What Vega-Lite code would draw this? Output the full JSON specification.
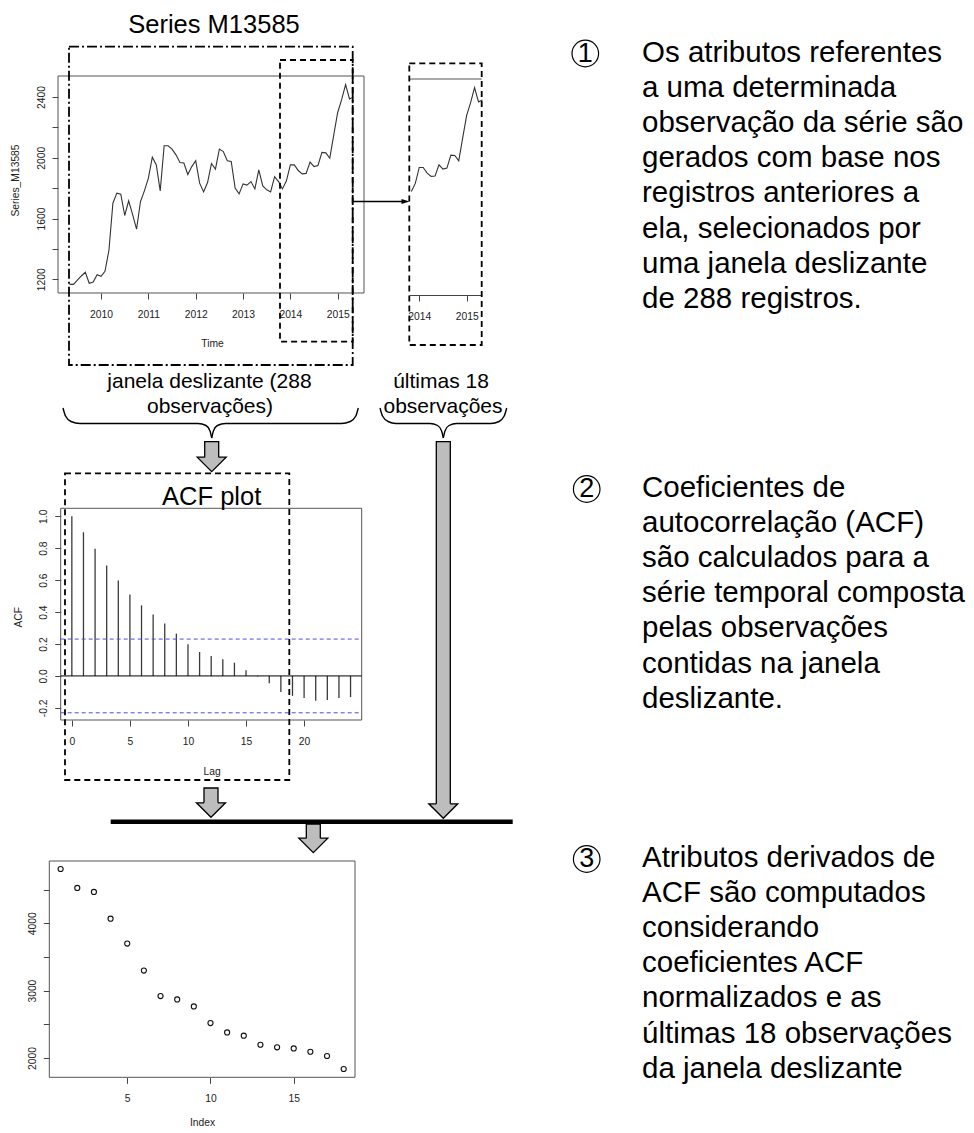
{
  "$schema": "https://vega.github.io/schema/vega-lite/v6.json",
  "width": 974,
  "height": 1133,
  "autosize": {"type": "none"},
  "padding": 0,
  "background": "white",
  "config": {
    "view": {"stroke": null},
    "font": "Liberation Sans",
    "axis": {
      "grid": false,
      "domain": false,
      "tickColor": "#444",
      "tickSize": 6,
      "tickWidth": 1,
      "labelColor": "#222",
      "labelFont": "Liberation Sans",
      "labelFontSize": 10.3,
      "labelOverlap": false,
      "labelFlush": false,
      "titleFont": "Liberation Sans",
      "titleFontSize": 10.3,
      "titleFontWeight": "normal",
      "titleColor": "#222"
    },
    "axisBottom": {"labelAngle": 0, "labelAlign": "center", "labelBaseline": "middle", "labelPadding": 15, "titleAlign": "center", "titleBaseline": "middle"},
    "axisLeft": {"labelAngle": -90, "labelAlign": "center", "labelBaseline": "middle", "labelPadding": 11, "titleAngle": -90, "titleAlign": "center", "titleBaseline": "middle"}
  },
  "datasets": {
    "series": [
      {"year": 2009.333, "value": 1167}, {"year": 2009.417, "value": 1167}, {"year": 2009.5, "value": 1195}, {"year": 2009.583, "value": 1222},
      {"year": 2009.667, "value": 1246}, {"year": 2009.75, "value": 1174}, {"year": 2009.833, "value": 1182}, {"year": 2009.917, "value": 1230},
      {"year": 2010, "value": 1220}, {"year": 2010.083, "value": 1253}, {"year": 2010.167, "value": 1393}, {"year": 2010.25, "value": 1701},
      {"year": 2010.333, "value": 1767}, {"year": 2010.417, "value": 1760}, {"year": 2010.5, "value": 1620}, {"year": 2010.583, "value": 1716},
      {"year": 2010.667, "value": 1626}, {"year": 2010.75, "value": 1530}, {"year": 2010.833, "value": 1712}, {"year": 2010.917, "value": 1784},
      {"year": 2011, "value": 1866}, {"year": 2011.083, "value": 2004}, {"year": 2011.167, "value": 1953}, {"year": 2011.25, "value": 1782},
      {"year": 2011.333, "value": 2079}, {"year": 2011.417, "value": 2079}, {"year": 2011.5, "value": 2057}, {"year": 2011.583, "value": 2019},
      {"year": 2011.667, "value": 1969}, {"year": 2011.75, "value": 1965}, {"year": 2011.833, "value": 1890}, {"year": 2011.917, "value": 1942},
      {"year": 2012, "value": 1980}, {"year": 2012.083, "value": 1833}, {"year": 2012.167, "value": 1775}, {"year": 2012.25, "value": 1837},
      {"year": 2012.333, "value": 1962}, {"year": 2012.417, "value": 1925}, {"year": 2012.5, "value": 2057}, {"year": 2012.583, "value": 2041},
      {"year": 2012.667, "value": 1980}, {"year": 2012.75, "value": 1976}, {"year": 2012.833, "value": 1800}, {"year": 2012.917, "value": 1762},
      {"year": 2013, "value": 1828}, {"year": 2013.083, "value": 1820}, {"year": 2013.167, "value": 1843}, {"year": 2013.25, "value": 1795},
      {"year": 2013.333, "value": 1920}, {"year": 2013.417, "value": 1815}, {"year": 2013.5, "value": 1789}, {"year": 2013.583, "value": 1775},
      {"year": 2013.667, "value": 1876}, {"year": 2013.75, "value": 1843}, {"year": 2013.833, "value": 1795}, {"year": 2013.917, "value": 1848},
      {"year": 2014, "value": 1953}, {"year": 2014.083, "value": 1953}, {"year": 2014.167, "value": 1916}, {"year": 2014.25, "value": 1894},
      {"year": 2014.333, "value": 1897}, {"year": 2014.417, "value": 1971}, {"year": 2014.5, "value": 1942}, {"year": 2014.583, "value": 1949},
      {"year": 2014.667, "value": 2035}, {"year": 2014.75, "value": 2032}, {"year": 2014.833, "value": 1997}, {"year": 2014.917, "value": 2151},
      {"year": 2015, "value": 2298}, {"year": 2015.083, "value": 2382}, {"year": 2015.167, "value": 2481}, {"year": 2015.25, "value": 2387},
      {"year": 2015.333, "value": 2400}
    ],
    "acf": [
      {"lag": 0, "acf": 1.0}, {"lag": 1, "acf": 0.9}, {"lag": 2, "acf": 0.796}, {"lag": 3, "acf": 0.692}, {"lag": 4, "acf": 0.598},
      {"lag": 5, "acf": 0.51}, {"lag": 6, "acf": 0.442}, {"lag": 7, "acf": 0.385}, {"lag": 8, "acf": 0.329}, {"lag": 9, "acf": 0.265},
      {"lag": 10, "acf": 0.198}, {"lag": 11, "acf": 0.15}, {"lag": 12, "acf": 0.125}, {"lag": 13, "acf": 0.104}, {"lag": 14, "acf": 0.083},
      {"lag": 15, "acf": 0.035}, {"lag": 16, "acf": -0.004}, {"lag": 17, "acf": -0.046}, {"lag": 18, "acf": -0.1}, {"lag": 19, "acf": -0.125},
      {"lag": 20, "acf": -0.138}, {"lag": 21, "acf": -0.156}, {"lag": 22, "acf": -0.15}, {"lag": 23, "acf": -0.138}, {"lag": 24, "acf": -0.133}
    ],
    "atributos": [
      {"index": 1, "value": 4804}, {"index": 2, "value": 4523}, {"index": 3, "value": 4464}, {"index": 4, "value": 4068},
      {"index": 5, "value": 3698}, {"index": 6, "value": 3298}, {"index": 7, "value": 2919}, {"index": 8, "value": 2869},
      {"index": 9, "value": 2765}, {"index": 10, "value": 2519}, {"index": 11, "value": 2380}, {"index": 12, "value": 2331},
      {"index": 13, "value": 2197}, {"index": 14, "value": 2158}, {"index": 15, "value": 2143}, {"index": 16, "value": 2093},
      {"index": 17, "value": 2030}, {"index": 18, "value": 1837}
    ],
    "molduras": [
      {"kind": "janela", "x": 69, "x2": 352.7, "y": 46.7, "y2": 365},
      {"kind": "destaque", "x": 280, "x2": 352.7, "y": 60, "y2": 341.7},
      {"kind": "destaque", "x": 409.3, "x2": 481.7, "y": 63.3, "y2": 345},
      {"kind": "destaque", "x": 65, "x2": 289.3, "y": 473.3, "y2": 780}
    ],
    "chaves": [
      {"parte": "b1e", "ordem": 1, "x": 63, "y": 408}, {"parte": "b1e", "ordem": 2, "x": 65.5, "y": 416}, {"parte": "b1e", "ordem": 3, "x": 71, "y": 421.5},
      {"parte": "b1e", "ordem": 4, "x": 80, "y": 423.5}, {"parte": "b1e", "ordem": 5, "x": 198, "y": 423.5}, {"parte": "b1e", "ordem": 6, "x": 206, "y": 425.5},
      {"parte": "b1e", "ordem": 7, "x": 210, "y": 431}, {"parte": "b1e", "ordem": 8, "x": 211.7, "y": 438},
      {"parte": "b1d", "ordem": 1, "x": 211.7, "y": 438}, {"parte": "b1d", "ordem": 2, "x": 213.4, "y": 431}, {"parte": "b1d", "ordem": 3, "x": 217.4, "y": 425.5},
      {"parte": "b1d", "ordem": 4, "x": 225.4, "y": 423.5}, {"parte": "b1d", "ordem": 5, "x": 341.3, "y": 423.5}, {"parte": "b1d", "ordem": 6, "x": 350.3, "y": 421.5},
      {"parte": "b1d", "ordem": 7, "x": 355.8, "y": 416}, {"parte": "b1d", "ordem": 8, "x": 358.3, "y": 408},
      {"parte": "b2e", "ordem": 1, "x": 380, "y": 408}, {"parte": "b2e", "ordem": 2, "x": 382.5, "y": 416}, {"parte": "b2e", "ordem": 3, "x": 388, "y": 421.5},
      {"parte": "b2e", "ordem": 4, "x": 396, "y": 423.5}, {"parte": "b2e", "ordem": 5, "x": 430, "y": 423.5}, {"parte": "b2e", "ordem": 6, "x": 437.6, "y": 425.5},
      {"parte": "b2e", "ordem": 7, "x": 441.6, "y": 431}, {"parte": "b2e", "ordem": 8, "x": 443.3, "y": 438},
      {"parte": "b2d", "ordem": 1, "x": 443.3, "y": 438}, {"parte": "b2d", "ordem": 2, "x": 445, "y": 431}, {"parte": "b2d", "ordem": 3, "x": 449, "y": 425.5},
      {"parte": "b2d", "ordem": 4, "x": 456.6, "y": 423.5}, {"parte": "b2d", "ordem": 5, "x": 491, "y": 423.5}, {"parte": "b2d", "ordem": 6, "x": 499, "y": 421.5},
      {"parte": "b2d", "ordem": 7, "x": 504.2, "y": 416}, {"parte": "b2d", "ordem": 8, "x": 506.7, "y": 408}
    ],
    "barra": [{"x": 110.7, "x2": 512.7, "y": 821.7}],
    "ligacao": [{"x": 352.7, "x2": 403, "y": 201.5, "px": 405.5}],
    "hastes": [
      {"x": 204.7, "x2": 218.7, "y": 441.7, "y2": 459},
      {"x": 436.3, "x2": 450.3, "y": 441.7, "y2": 805.5},
      {"x": 204, "x2": 218, "y": 788, "y2": 804.5},
      {"x": 306.3, "x2": 320.3, "y": 824, "y2": 840}
    ],
    "pontas": [
      {"x": 211.7, "y": 464.45},
      {"x": 443.3, "y": 811.05},
      {"x": 211, "y": 810.05},
      {"x": 313.3, "y": 845.45}
    ],
    "titulos": [
      {"texto": "Series M13585", "x": 214, "y": 33.3},
      {"texto": "ACF plot", "x": 211.7, "y": 505}
    ],
    "legendas": [
      {"texto": "janela deslizante (288", "x": 209.5, "y": 388},
      {"texto": "observações)", "x": 210, "y": 413},
      {"texto": "últimas 18", "x": 441, "y": 388},
      {"texto": "observações", "x": 443, "y": 413}
    ],
    "paragrafos": [
      {"x": 642, "y": 61.7, "texto": "Os atributos referentes\na uma determinada\nobservação da série são\ngerados com base nos\nregistros anteriores a\nela, selecionados por\numa janela deslizante\nde 288 registros."},
      {"x": 642, "y": 496.7, "texto": "Coeficientes de\nautocorrelação (ACF)\nsão calculados para a\nsérie temporal composta\npelas observações\ncontidas na janela\ndeslizante."},
      {"x": 642, "y": 866.7, "texto": "Atributos derivados de\nACF são computados\nconsiderando\ncoeficientes ACF\nnormalizados e as\núltimas 18 observações\nda janela deslizante"}
    ],
    "numeros": [
      {"n": "1", "x": 585.3, "y": 53.5},
      {"n": "2", "x": 586.7, "y": 489},
      {"n": "3", "x": 586.7, "y": 859}
    ]
  },
  "resolve": {
    "scale": {"x": "independent", "y": "independent"},
    "axis": {"x": "independent", "y": "independent"}
  },
  "layer": [
    {
      "data": {"name": "series"},
      "mark": {"type": "line", "color": "#333", "strokeWidth": 1.1},
      "encoding": {
        "x": {
          "field": "year", "type": "quantitative",
          "scale": {"domain": [2009.09, 2015.556], "range": [58, 364], "nice": false, "zero": false},
          "axis": {"orient": "bottom", "offset": -840, "values": [2010, 2011, 2012, 2013, 2014, 2015], "format": "d", "title": "Time", "titleX": 212, "titleY": 50}
        },
        "y": {
          "field": "value", "type": "quantitative",
          "scale": {"domain": [1110, 2538], "range": [293, 76], "nice": false, "zero": false},
          "axis": {"orient": "left", "offset": -58, "values": [1200, 1400, 1600, 1800, 2000, 2200, 2400], "format": "d", "labelExpr": "datum.value % 400 == 0 ? datum.label : ''", "title": "Series_M13585", "titleX": -43, "titleY": 180}
        }
      }
    },
    {
      "data": {"values": [{}]},
      "mark": {"type": "rect", "fill": "transparent", "stroke": "#555", "strokeWidth": 1},
      "encoding": {
        "x": {"datum": 2009.09, "type": "quantitative", "scale": {"domain": [2009.09, 2015.556], "range": [58, 364], "nice": false, "zero": false}, "axis": null},
        "x2": {"datum": 2015.556},
        "y": {"datum": 1110, "type": "quantitative", "scale": {"domain": [1110, 2538], "range": [293, 76], "nice": false, "zero": false}, "axis": null},
        "y2": {"datum": 2538}
      }
    },
    {
      "data": {"name": "series"},
      "transform": [{"filter": "datum.year > 2013.8"}],
      "mark": {"type": "line", "color": "#333", "strokeWidth": 1.1},
      "encoding": {
        "x": {
          "field": "year", "type": "quantitative",
          "scale": {"domain": [2013.79, 2015.317], "range": [409.3, 481.7], "nice": false, "zero": false},
          "axis": {"orient": "bottom", "offset": -838, "values": [2014, 2015], "format": "d", "domain": true, "domainColor": "#444", "title": null}
        },
        "y": {
          "field": "value", "type": "quantitative",
          "scale": {"domain": [1110, 2538], "range": [295, 79], "nice": false, "zero": false},
          "axis": null
        }
      }
    },
    {
      "data": {"values": [{}]},
      "mark": {"type": "rule", "color": "#555", "strokeWidth": 1},
      "encoding": {
        "x": {"datum": 2013.79, "type": "quantitative", "scale": {"domain": [2013.79, 2015.317], "range": [409.3, 481.7], "nice": false, "zero": false}, "axis": null},
        "x2": {"datum": 2015.317},
        "y": {"datum": 2538, "type": "quantitative", "scale": {"domain": [1110, 2538], "range": [295, 79], "nice": false, "zero": false}, "axis": null}
      }
    },
    {
      "data": {"name": "acf"},
      "mark": {"type": "rule", "color": "#3a3a3a", "strokeWidth": 1.3},
      "encoding": {
        "x": {
          "field": "lag", "type": "quantitative",
          "scale": {"domain": [-0.96, 24.96], "range": [60.7, 361.7], "nice": false, "zero": false},
          "axis": {"orient": "bottom", "offset": -413, "values": [0, 5, 10, 15, 20], "format": "d", "title": "Lag", "titleX": 211.7, "titleY": 51.7}
        },
        "y": {
          "field": "acf", "type": "quantitative",
          "scale": {"domain": [-0.276, 1.05], "range": [720, 508.3], "nice": false, "zero": false},
          "axis": {"orient": "left", "offset": -60.7, "values": [-0.2, 0, 0.2, 0.4, 0.6, 0.8, 1], "format": ".1f", "labelExpr": "replace(datum.label, '−', '-')", "title": "ACF", "titleX": -42.4, "titleY": 616.7}
        },
        "y2": {"datum": 0}
      }
    },
    {
      "data": {"values": [{}]},
      "mark": {"type": "rect", "fill": "transparent", "stroke": "#555", "strokeWidth": 1},
      "encoding": {
        "x": {"datum": -0.96, "type": "quantitative", "scale": {"domain": [-0.96, 24.96], "range": [60.7, 361.7], "nice": false, "zero": false}, "axis": null},
        "x2": {"datum": 24.96},
        "y": {"datum": -0.276, "type": "quantitative", "scale": {"domain": [-0.276, 1.05], "range": [720, 508.3], "nice": false, "zero": false}, "axis": null},
        "y2": {"datum": 1.05}
      }
    },
    {
      "data": {"values": [{"limite": 0.2309}, {"limite": -0.2309}]},
      "mark": {"type": "rule", "color": "#4b4bf0", "strokeWidth": 1, "strokeDash": [4, 3]},
      "encoding": {
        "x": {"datum": -0.96, "type": "quantitative", "scale": {"domain": [-0.96, 24.96], "range": [60.7, 361.7], "nice": false, "zero": false}, "axis": null},
        "x2": {"datum": 24.96},
        "y": {"field": "limite", "type": "quantitative", "scale": {"domain": [-0.276, 1.05], "range": [720, 508.3], "nice": false, "zero": false}, "axis": null}
      }
    },
    {
      "data": {"values": [{}]},
      "mark": {"type": "rule", "color": "black", "strokeWidth": 1},
      "encoding": {
        "x": {"datum": -0.96, "type": "quantitative", "scale": {"domain": [-0.96, 24.96], "range": [60.7, 361.7], "nice": false, "zero": false}, "axis": null},
        "x2": {"datum": 24.96},
        "y": {"datum": 0, "type": "quantitative", "scale": {"domain": [-0.276, 1.05], "range": [720, 508.3], "nice": false, "zero": false}, "axis": null}
      }
    },
    {
      "data": {"name": "atributos"},
      "mark": {"type": "point", "shape": "circle", "filled": false, "stroke": "#111", "strokeWidth": 1.1, "opacity": 1, "size": 26},
      "encoding": {
        "x": {
          "field": "index", "type": "quantitative",
          "scale": {"domain": [0.32, 18.68], "range": [49.3, 355], "nice": false, "zero": false},
          "axis": {"orient": "bottom", "offset": -55.7, "values": [5, 10, 15], "format": "d", "title": "Index", "titleX": 202, "titleY": 44.7}
        },
        "y": {
          "field": "value", "type": "quantitative",
          "scale": {"domain": [1714, 4923], "range": [1077.3, 861], "nice": false, "zero": false},
          "axis": {"orient": "left", "offset": -49.3, "values": [2000, 2500, 3000, 3500, 4000, 4500], "format": "d", "labelExpr": "datum.value % 1000 == 0 ? datum.label : ''", "title": null}
        }
      }
    },
    {
      "data": {"values": [{}]},
      "mark": {"type": "rect", "fill": "transparent", "stroke": "#555", "strokeWidth": 1},
      "encoding": {
        "x": {"datum": 0.32, "type": "quantitative", "scale": {"domain": [0.32, 18.68], "range": [49.3, 355], "nice": false, "zero": false}, "axis": null},
        "x2": {"datum": 18.68},
        "y": {"datum": 1714, "type": "quantitative", "scale": {"domain": [1714, 4923], "range": [1077.3, 861], "nice": false, "zero": false}, "axis": null},
        "y2": {"datum": 4923}
      }
    },
    {
      "data": {"name": "molduras"},
      "transform": [{"filter": "datum.kind == 'janela'"}],
      "mark": {"type": "rect", "fill": "transparent", "stroke": "black", "strokeWidth": 1.8, "strokeDash": [10, 3, 2, 3]},
      "encoding": {
        "x": {"field": "x", "type": "quantitative", "scale": {"domain": [0, 974], "range": [0, 974], "nice": false, "zero": false}, "axis": null},
        "x2": {"field": "x2"},
        "y": {"field": "y", "type": "quantitative", "scale": {"domain": [0, 1133], "range": [0, 1133], "nice": false, "zero": false}, "axis": null},
        "y2": {"field": "y2"}
      }
    },
    {
      "data": {"name": "molduras"},
      "transform": [{"filter": "datum.kind == 'destaque'"}],
      "mark": {"type": "rect", "fill": "transparent", "stroke": "black", "strokeWidth": 1.8, "strokeDash": [6, 4]},
      "encoding": {
        "x": {"field": "x", "type": "quantitative", "scale": {"domain": [0, 974], "range": [0, 974], "nice": false, "zero": false}, "axis": null},
        "x2": {"field": "x2"},
        "y": {"field": "y", "type": "quantitative", "scale": {"domain": [0, 1133], "range": [0, 1133], "nice": false, "zero": false}, "axis": null},
        "y2": {"field": "y2"}
      }
    },
    {
      "data": {"name": "chaves"},
      "mark": {"type": "line", "color": "black", "strokeWidth": 1.4, "interpolate": "monotone"},
      "encoding": {
        "x": {"field": "x", "type": "quantitative", "scale": {"domain": [0, 974], "range": [0, 974], "nice": false, "zero": false}, "axis": null},
        "y": {"field": "y", "type": "quantitative", "scale": {"domain": [0, 1133], "range": [0, 1133], "nice": false, "zero": false}, "axis": null},
        "detail": {"field": "parte"},
        "order": {"field": "ordem", "type": "quantitative"}
      }
    },
    {
      "data": {"name": "ligacao"},
      "mark": {"type": "rule", "color": "black", "strokeWidth": 1.5},
      "encoding": {
        "x": {"field": "x", "type": "quantitative", "scale": {"domain": [0, 974], "range": [0, 974], "nice": false, "zero": false}, "axis": null},
        "x2": {"field": "x2"},
        "y": {"field": "y", "type": "quantitative", "scale": {"domain": [0, 1133], "range": [0, 1133], "nice": false, "zero": false}, "axis": null}
      }
    },
    {
      "data": {"name": "ligacao"},
      "mark": {"type": "point", "shape": "M-1,-0.6L1,0L-1,0.6Z", "filled": true, "color": "black", "opacity": 1, "size": 64},
      "encoding": {
        "x": {"field": "px", "type": "quantitative", "scale": {"domain": [0, 974], "range": [0, 974], "nice": false, "zero": false}, "axis": null},
        "y": {"field": "y", "type": "quantitative", "scale": {"domain": [0, 1133], "range": [0, 1133], "nice": false, "zero": false}, "axis": null}
      }
    },
    {
      "data": {"name": "hastes"},
      "mark": {"type": "rect", "fill": "#bdbdbd", "stroke": "black", "strokeWidth": 1.3},
      "encoding": {
        "x": {"field": "x", "type": "quantitative", "scale": {"domain": [0, 974], "range": [0, 974], "nice": false, "zero": false}, "axis": null},
        "x2": {"field": "x2"},
        "y": {"field": "y", "type": "quantitative", "scale": {"domain": [0, 1133], "range": [0, 1133], "nice": false, "zero": false}, "axis": null},
        "y2": {"field": "y2"}
      }
    },
    {
      "data": {"name": "pontas"},
      "mark": {"type": "point", "shape": "M-0.48,-0.5L-1,-0.5L0,0.5L1,-0.5L0.48,-0.5", "filled": true, "fill": "#bdbdbd", "stroke": "black", "strokeWidth": 1.3, "opacity": 1, "size": 841},
      "encoding": {
        "x": {"field": "x", "type": "quantitative", "scale": {"domain": [0, 974], "range": [0, 974], "nice": false, "zero": false}, "axis": null},
        "y": {"field": "y", "type": "quantitative", "scale": {"domain": [0, 1133], "range": [0, 1133], "nice": false, "zero": false}, "axis": null}
      }
    },
    {
      "data": {"name": "barra"},
      "mark": {"type": "rule", "color": "black", "strokeWidth": 4.5},
      "encoding": {
        "x": {"field": "x", "type": "quantitative", "scale": {"domain": [0, 974], "range": [0, 974], "nice": false, "zero": false}, "axis": null},
        "x2": {"field": "x2"},
        "y": {"field": "y", "type": "quantitative", "scale": {"domain": [0, 1133], "range": [0, 1133], "nice": false, "zero": false}, "axis": null}
      }
    },
    {
      "data": {"name": "titulos"},
      "mark": {"type": "text", "font": "Liberation Sans", "fontSize": 25.5, "align": "center", "baseline": "alphabetic", "color": "black"},
      "encoding": {
        "x": {"field": "x", "type": "quantitative", "scale": {"domain": [0, 974], "range": [0, 974], "nice": false, "zero": false}, "axis": null},
        "y": {"field": "y", "type": "quantitative", "scale": {"domain": [0, 1133], "range": [0, 1133], "nice": false, "zero": false}, "axis": null},
        "text": {"field": "texto"}
      }
    },
    {
      "data": {"name": "legendas"},
      "mark": {"type": "text", "font": "Liberation Sans", "fontSize": 21, "align": "center", "baseline": "alphabetic", "color": "black"},
      "encoding": {
        "x": {"field": "x", "type": "quantitative", "scale": {"domain": [0, 974], "range": [0, 974], "nice": false, "zero": false}, "axis": null},
        "y": {"field": "y", "type": "quantitative", "scale": {"domain": [0, 1133], "range": [0, 1133], "nice": false, "zero": false}, "axis": null},
        "text": {"field": "texto"}
      }
    },
    {
      "data": {"name": "paragrafos"},
      "mark": {"type": "text", "font": "Liberation Sans", "fontSize": 29.5, "align": "left", "baseline": "alphabetic", "lineBreak": "\n", "lineHeight": 35.2, "color": "black"},
      "encoding": {
        "x": {"field": "x", "type": "quantitative", "scale": {"domain": [0, 974], "range": [0, 974], "nice": false, "zero": false}, "axis": null},
        "y": {"field": "y", "type": "quantitative", "scale": {"domain": [0, 1133], "range": [0, 1133], "nice": false, "zero": false}, "axis": null},
        "text": {"field": "texto"}
      }
    },
    {
      "data": {"name": "numeros"},
      "mark": {"type": "point", "shape": "circle", "filled": false, "stroke": "black", "strokeWidth": 1.2, "opacity": 1, "size": 707},
      "encoding": {
        "x": {"field": "x", "type": "quantitative", "scale": {"domain": [0, 974], "range": [0, 974], "nice": false, "zero": false}, "axis": null},
        "y": {"field": "y", "type": "quantitative", "scale": {"domain": [0, 1133], "range": [0, 1133], "nice": false, "zero": false}, "axis": null}
      }
    },
    {
      "data": {"name": "numeros"},
      "mark": {"type": "text", "font": "Liberation Sans", "fontSize": 27, "align": "center", "baseline": "middle", "color": "black"},
      "encoding": {
        "x": {"field": "x", "type": "quantitative", "scale": {"domain": [0, 974], "range": [0, 974], "nice": false, "zero": false}, "axis": null},
        "y": {"field": "y", "type": "quantitative", "scale": {"domain": [0, 1133], "range": [0, 1133], "nice": false, "zero": false}, "axis": null},
        "text": {"field": "n"}
      }
    }
  ]
}
